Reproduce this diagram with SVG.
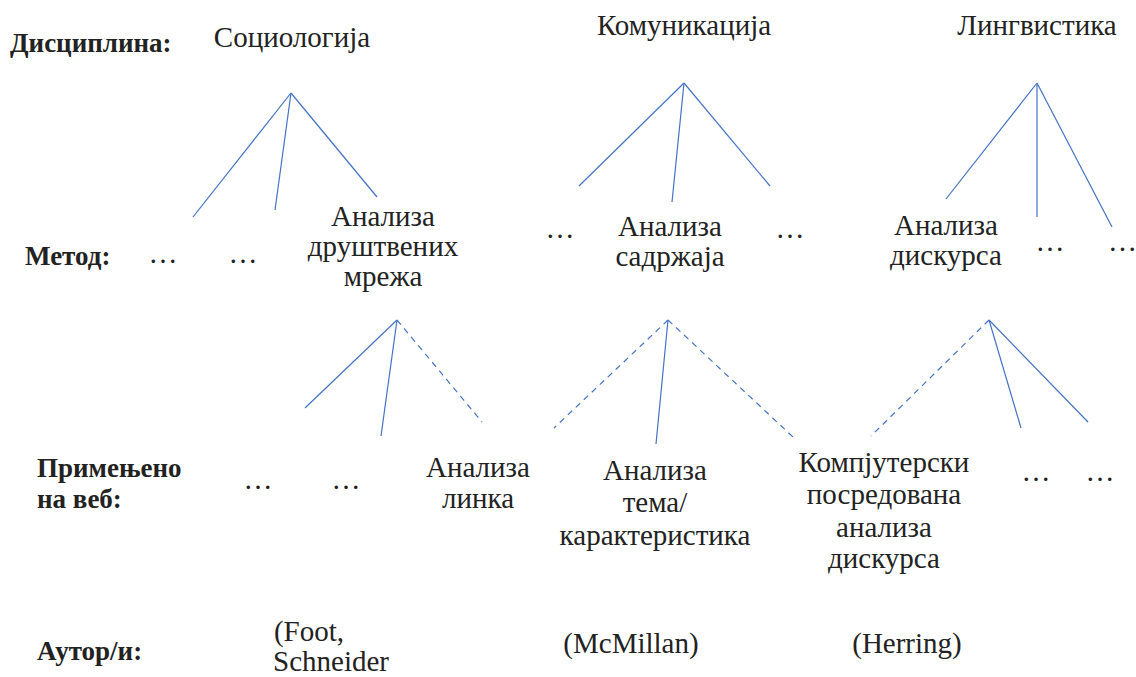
<svg xmlns="http://www.w3.org/2000/svg" width="1136" height="677" viewBox="0 0 1136 677">
<style>
text{font-size:29px;fill:#222}
.b{font-weight:bold;font-size:27px}
.c{text-anchor:middle}
.l{stroke:#4472C4;stroke-width:1.2;fill:none}
.d{stroke-dasharray:6 5}
</style>
<rect width="1136" height="677" fill="#fff"/>
<g id="row-labels">
<text font-family="Liberation Serif" class="b" x="10" y="52">Дисциплина:</text>
<text font-family="Liberation Serif" class="b" x="25" y="265">Метод:</text>
<text font-family="Liberation Serif" class="b" x="37" y="477">Примењено</text>
<text font-family="Liberation Serif" class="b" x="37" y="508">на веб:</text>
<text font-family="Liberation Serif" class="b" x="37" y="660">Аутор/и:</text>
</g>
<g id="connectors">
<line class="l" x1="291" y1="93" x2="193" y2="217"/>
<line class="l" x1="291" y1="93" x2="275" y2="210"/>
<line class="l" x1="291" y1="93" x2="377" y2="197"/>
<line class="l" x1="684" y1="83" x2="579" y2="186"/>
<line class="l" x1="684" y1="83" x2="672" y2="202"/>
<line class="l" x1="684" y1="83" x2="770" y2="186"/>
<line class="l" x1="1037" y1="83" x2="946" y2="199"/>
<line class="l" x1="1037" y1="83" x2="1037" y2="217"/>
<line class="l" x1="1037" y1="83" x2="1112" y2="227"/>
<line class="l" x1="397" y1="320" x2="305" y2="408"/>
<line class="l" x1="397" y1="320" x2="381" y2="436"/>
<line class="l d" x1="397" y1="320" x2="482" y2="422"/>
<line class="l d" x1="668" y1="320" x2="554" y2="428"/>
<line class="l" x1="668" y1="320" x2="656" y2="444"/>
<line class="l d" x1="668" y1="320" x2="793" y2="437"/>
<line class="l d" x1="989" y1="320" x2="871" y2="436"/>
<line class="l" x1="989" y1="320" x2="1021" y2="428"/>
<line class="l" x1="989" y1="320" x2="1088" y2="422"/>
</g>
<g id="n-sociologija"><text font-family="Liberation Serif" class="c" x="292" y="47">Социологија</text></g>
<g id="n-komunikacija"><text font-family="Liberation Serif" class="c" x="684" y="35">Комуникација</text></g>
<g id="n-lingvistika"><text font-family="Liberation Serif" class="c" x="1037" y="35">Лингвистика</text></g>
<g id="n-m1"><text font-family="Liberation Serif" class="c" x="163" y="263">…</text></g>
<g id="n-m2"><text font-family="Liberation Serif" class="c" x="243" y="263">…</text></g>
<g id="n-asm"><text font-family="Liberation Serif" class="c" x="383" y="226">Анализа</text><text font-family="Liberation Serif" class="c" x="383" y="256">друштвених</text><text font-family="Liberation Serif" class="c" x="383" y="286">мрежа</text></g>
<g id="n-m3"><text font-family="Liberation Serif" class="c" x="560" y="238">…</text></g>
<g id="n-as"><text font-family="Liberation Serif" class="c" x="670" y="236">Анализа</text><text font-family="Liberation Serif" class="c" x="670" y="266">садржаја</text></g>
<g id="n-m4"><text font-family="Liberation Serif" class="c" x="790" y="238">…</text></g>
<g id="n-ad"><text font-family="Liberation Serif" class="c" x="946" y="235">Анализа</text><text font-family="Liberation Serif" class="c" x="946" y="265">дискурса</text></g>
<g id="n-m5"><text font-family="Liberation Serif" class="c" x="1050" y="251">…</text></g>
<g id="n-m6"><text font-family="Liberation Serif" x="1108" y="251">…</text></g>
<g id="n-w1"><text font-family="Liberation Serif" class="c" x="258" y="489">…</text></g>
<g id="n-w2"><text font-family="Liberation Serif" class="c" x="346" y="489">…</text></g>
<g id="n-al"><text font-family="Liberation Serif" class="c" x="478" y="477">Анализа</text><text font-family="Liberation Serif" class="c" x="478" y="508">линка</text></g>
<g id="n-atk"><text font-family="Liberation Serif" class="c" x="655" y="480">Анализа</text><text font-family="Liberation Serif" class="c" x="655" y="512">тема/</text><text font-family="Liberation Serif" class="c" x="655" y="545">карактеристика</text></g>
<g id="n-cmda"><text font-family="Liberation Serif" class="c" x="884" y="472">Компјутерски</text><text font-family="Liberation Serif" class="c" x="884" y="504">посредована</text><text font-family="Liberation Serif" class="c" x="884" y="537">анализа</text><text font-family="Liberation Serif" class="c" x="884" y="568">дискурса</text></g>
<g id="n-w3"><text font-family="Liberation Serif" class="c" x="1036" y="481">…</text></g>
<g id="n-w4"><text font-family="Liberation Serif" class="c" x="1100" y="481">…</text></g>
<g id="n-foot"><text font-family="Liberation Serif" class="c" x="309" y="641">(Foot,</text><text font-family="Liberation Serif" class="c" x="331" y="671">Schneider</text></g>
<g id="n-mcm"><text font-family="Liberation Serif" class="c" x="631" y="653">(McMillan)</text></g>
<g id="n-her"><text font-family="Liberation Serif" class="c" x="907" y="653">(Herring)</text></g>
</svg>
